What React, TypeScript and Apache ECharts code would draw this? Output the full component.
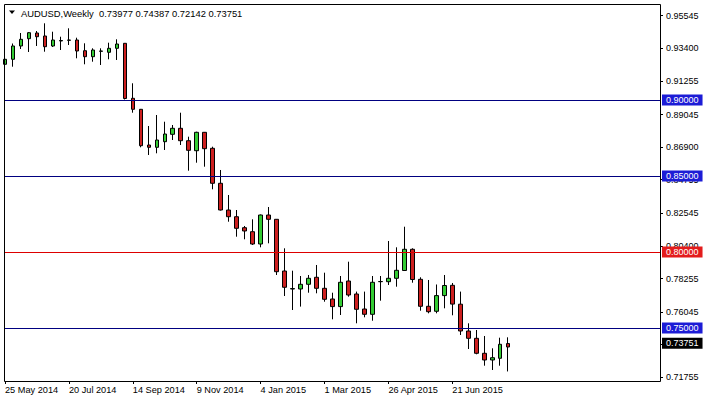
import React, { useEffect, useRef } from "react";
import * as echarts from "echarts";

const symbol = "AUDUSD";
const timeframe = "Weekly";
const firstWeek = "2014-05-25";
const totalSlots = 83;
const xLabelEvery = 8;
const monthNames = ["Jan", "Feb", "Mar", "Apr", "May", "Jun", "Jul", "Aug", "Sep", "Oct", "Nov", "Dec"];

const opens = [
  0.92349, 0.92678, 0.93553, 0.94033, 0.94408, 0.94211, 0.93553, 0.93882, 0.93928, 0.93947,
  0.93243, 0.92849, 0.93204, 0.93138, 0.93401, 0.9373, 0.90112, 0.89388, 0.87039, 0.86888,
  0.87257, 0.87743, 0.88138, 0.87322, 0.86664, 0.87875, 0.86822, 0.8452, 0.82763, 0.82322,
  0.81599, 0.81336, 0.80526, 0.82434, 0.82151, 0.7875, 0.77566, 0.77566, 0.77875, 0.78336,
  0.77612, 0.76908, 0.76408, 0.78092, 0.77237, 0.7625, 0.75901, 0.78046, 0.78046, 0.7827,
  0.78783, 0.80178, 0.78204, 0.76428, 0.76099, 0.77132, 0.77809, 0.76566, 0.74803, 0.74322,
  0.73336, 0.72895, 0.73007, 0.73977,
];
const closes = [
  0.92678, 0.93553, 0.93993, 0.94428, 0.94164, 0.93507, 0.93947, 0.93914, 0.93947, 0.93224,
  0.92849, 0.93289, 0.93224, 0.93401, 0.93684, 0.90099, 0.89388, 0.86993, 0.86888, 0.87368,
  0.87763, 0.88138, 0.87322, 0.86691, 0.87875, 0.86796, 0.8452, 0.82763, 0.82322, 0.81559,
  0.81382, 0.80526, 0.82434, 0.82151, 0.78704, 0.77678, 0.77592, 0.77875, 0.7827, 0.77612,
  0.76888, 0.76408, 0.78007, 0.77171, 0.7623, 0.75901, 0.78007, 0.78059, 0.7827, 0.78796,
  0.80178, 0.7819, 0.76428, 0.76072, 0.77132, 0.77796, 0.76572, 0.74803, 0.74322, 0.73336,
  0.72895, 0.73046, 0.73928, 0.73751,
];
const highs = [
  0.93289, 0.93717, 0.94408, 0.94474, 0.94539, 0.95046, 0.94493, 0.94164, 0.94717, 0.94099,
  0.9373, 0.93401, 0.93401, 0.9377, 0.93993, 0.9375, 0.91099, 0.89408, 0.88289, 0.89013,
  0.88572, 0.88355, 0.89164, 0.87586, 0.87914, 0.87895, 0.86928, 0.85395, 0.8375, 0.82763,
  0.81711, 0.82151, 0.82467, 0.8296, 0.82171, 0.80243, 0.7877, 0.78421, 0.78487, 0.79145,
  0.78638, 0.77322, 0.78421, 0.79362, 0.77395, 0.77395, 0.78421, 0.78421, 0.80724, 0.80309,
  0.81664, 0.80243, 0.78336, 0.78158, 0.77862, 0.78487, 0.77961, 0.77395, 0.75309, 0.74868,
  0.74474, 0.73664, 0.74362, 0.74387,
];
const lows = [
  0.92039, 0.92191, 0.93355, 0.93158, 0.93553, 0.93178, 0.93487, 0.93289, 0.93618, 0.92743,
  0.92349, 0.9252, 0.92303, 0.92678, 0.92632, 0.90033, 0.89164, 0.86888, 0.86382, 0.86493,
  0.86711, 0.87368, 0.87039, 0.85349, 0.85875, 0.85612, 0.84125, 0.8273, 0.81993, 0.81007,
  0.80836, 0.80461, 0.80309, 0.80572, 0.78487, 0.77105, 0.76184, 0.76408, 0.77322, 0.77283,
  0.7673, 0.75572, 0.75855, 0.77059, 0.75309, 0.75704, 0.7548, 0.76796, 0.77829, 0.77717,
  0.7875, 0.7798, 0.76138, 0.75967, 0.75967, 0.76296, 0.75836, 0.74539, 0.73618, 0.7327,
  0.7252, 0.72237, 0.7252, 0.72142,
];

const yTicks = [0.95545, 0.934, 0.91255, 0.89045, 0.869, 0.84755, 0.82545, 0.804, 0.78255, 0.76045, 0.739, 0.71755];
const yMin = 0.715132;
const yMax = 0.963158;

const levels = [0.9, 0.85, 0.8, 0.75];
const levelLineColors = ["#000080", "#000080", "#dd0000", "#000080"];
const levelLabelColors = ["#1c1cd6", "#1c1cd6", "#e31c1c", "#1c1cd6"];

const FONT = "Liberation Sans";

export default function App() {
  const ref = useRef<HTMLDivElement>(null);

  useEffect(() => {
    const chart = echarts.init(ref.current!, null, { renderer: "svg" });
    const start = Date.parse(firstWeek + "T00:00:00Z");
    const weeks = Array.from({ length: totalSlots }, (_, i) => {
      const d = new Date(start + i * 7 * 86400000);
      return `${d.getUTCDate()} ${monthNames[d.getUTCMonth()]} ${d.getUTCFullYear()}`;
    });
    const n = opens.length;
    const last = n - 1;
    const showTick = (i: number) => i % xLabelEvery === 0 && i < n;
    const data = opens.map((o, i) => [o, closes[i], lows[i], highs[i]]);
    const title = `${symbol},${timeframe}\u00a0 ${opens[last].toFixed(5)} ${highs[last].toFixed(5)} ${lows[last].toFixed(5)} ${closes[last].toFixed(5)}`;

    const markData: any[] = levels.map((v, k) => ({
      yAxis: v,
      lineStyle: { color: levelLineColors[k], width: 1, type: "solid" },
      label: { backgroundColor: levelLabelColors[k], formatter: v.toFixed(5) },
    }));
    markData.push({
      yAxis: closes[last],
      lineStyle: { color: "rgba(0,0,0,0)", width: 0 },
      label: { backgroundColor: "#000000", formatter: closes[last].toFixed(5) },
    });

    chart.setOption({
      animation: false,
      backgroundColor: "#ffffff",
      grid: { left: 5, top: 4, width: 655, height: 377, containLabel: false },
      xAxis: {
        type: "category",
        data: weeks,
        boundaryGap: false,
        axisLine: { show: false },
        axisTick: { show: true, interval: showTick, length: 3, lineStyle: { color: "#000" } },
        axisLabel: {
          interval: showTick,
          align: "left",
          margin: 4,
          color: "#000",
          fontSize: 9.2,
          fontFamily: FONT,
        },
        splitLine: { show: false },
      },
      yAxis: {
        type: "value",
        position: "right",
        min: yMin,
        max: yMax,
        axisLine: { show: false },
        axisTick: { show: true, length: 3, customValues: yTicks, lineStyle: { color: "#000" } },
        axisLabel: {
          customValues: yTicks,
          formatter: (v: number) => v.toFixed(5),
          margin: 6,
          color: "#000",
          fontSize: 9,
          fontFamily: FONT,
        },
        splitLine: { show: false },
      },
      graphic: [
        {
          type: "rect",
          silent: true,
          z: 100,
          shape: { x: 4.5, y: 4.5, width: 656, height: 377 },
          style: { fill: "none", stroke: "#000", lineWidth: 1 },
        },
        {
          type: "polygon",
          silent: true,
          shape: { points: [[9, 10.5], [15, 10.5], [12, 14]] },
          style: { fill: "#000" },
        },
        {
          type: "text",
          silent: true,
          x: 21,
          y: 13,
          style: { text: title, fontSize: 9.4, fontFamily: FONT, fill: "#000", verticalAlign: "middle" },
        },
      ],
      series: [
        {
          type: "candlestick",
          data,
          barWidth: 4,
          itemStyle: {
            color: "#33cc33",
            color0: "#cc1f1f",
            borderColor: "#000",
            borderColor0: "#000",
            borderWidth: 1,
          },
          markLine: {
            silent: true,
            symbol: ["none", "none"],
            animation: false,
            label: {
              show: true,
              position: "end",
              distance: 2,
              color: "#fff",
              fontSize: 9,
              fontFamily: FONT,
              padding: [1, 4, 1, 4],
              lineHeight: 9,
            },
            data: markData,
          },
        },
      ],
    });
    return () => chart.dispose();
  }, []);

  return (
    <div
      ref={ref}
      style={{ position: "absolute", left: 0, top: 0, width: 705, height: 401, background: "#fff" }}
    />
  );
}
